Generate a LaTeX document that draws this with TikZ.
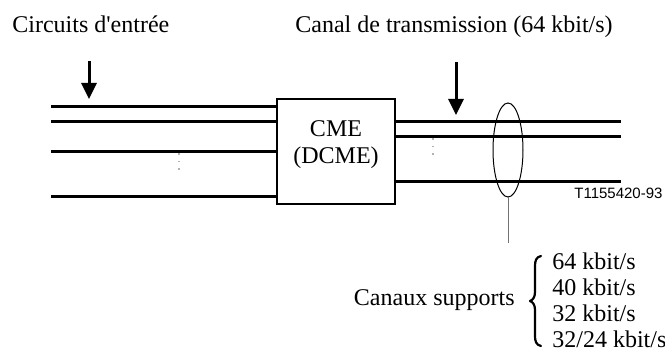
\documentclass[tikz,border=0pt]{standalone}
\usepackage{fontspec}
\setmainfont{Liberation Serif}
\newfontfamily\serifplain{Liberation Serif}
\newfontfamily\sansf{Liberation Sans}
\usetikzlibrary{arrows.meta,shapes.geometric}
\tikzset{
  thickline/.style={line width=1.5pt},
  downarrow/.style={line width=1.5pt,-{Triangle[width=7.5pt,length=8pt]}},
  cmebox/.style={draw,line width=1pt,minimum width=59pt,minimum height=52.5pt,inner sep=0pt},
  lbl/.style={font=\fontsize{12}{13.5}\selectfont,inner sep=0pt},
  tag/.style={font=\sansf\fontsize{7.5}{9}\selectfont,inner sep=0pt},
  ring/.style={draw,ellipse,line width=0.5pt,minimum width=15pt,minimum height=47pt,inner sep=0pt},
  leader/.style={draw=black!55,line width=0.5pt},
  dotmark/.style={fill=black!30,draw=none},
  bracepath/.style={line width=1.1pt,line cap=round,line join=round},
}
\begin{document}
\begin{tikzpicture}[x=0.5pt,y=-0.5pt]
\useasboundingbox (0,0) rectangle (665,352);
% texts at top
\node[lbl,anchor=base west] (tin) at (12,33) {\serifplain Circuits d'entrée};
\node[lbl,anchor=base west] (tch) at (295,33) {Canal de transmission (64 kbit/s)};
% box
\node[cmebox] (cme) at (336,152) {};
\node[lbl,align=center] (cmetext) at (336,144.5) {CME\\(DCME)};
% left lines
\coordinate (l1) at (51,107);
\coordinate (l2) at (51,122);
\coordinate (l3) at (51,152);
\coordinate (l4) at (51,197);
\foreach \c in {l1,l2,l3,l4} \draw[thickline] (\c) -- (\c -| cme.west);
% right lines
\coordinate (r1) at (621,122);
\coordinate (r2) at (621,137);
\coordinate (r3) at (621,182);
\foreach \c in {r1,r2,r3} \draw[thickline] (\c -| cme.east) -- (\c);
% arrows
\coordinate (a1s) at (89,61);
\coordinate (a1e) at (89,99);
\draw[downarrow] (a1s) -- (a1e);
\coordinate (a2s) at (456,62);
\coordinate (a2e) at (456,115);
\draw[downarrow] (a2s) -- (a2e);
% dots
\foreach \y in {154,161.5,169} \fill[dotmark] (178.2,\y-0.8) rectangle (179.8,\y+0.8);
\foreach \y in {139,146.5,154} \fill[dotmark] (432.2,\y-0.8) rectangle (433.8,\y+0.8);
% ellipse and leader
\node[ring] (ring) at (508,150) {};
\coordinate (lead) at (508,243);
\draw[leader] (ring.south) -- (lead);
% tag
\node[tag,anchor=base west] (tag) at (574,199) {T1155420-93};
% supports
\node[lbl,anchor=base east] (sup) at (515,306) {Canaux supports};
\draw[bracepath] (541,256) .. controls (536,257) and (535,261) .. (535,266) -- (535,292)
  .. controls (535,297) and (533,300) .. (530,301)
  .. controls (533,302) and (535,305) .. (535,310) -- (535,336)
  .. controls (535,341) and (536,345) .. (541,346);
\node[inner sep=0pt,anchor=base west] (rates) at (552,270) {\fontsize{12}{12.85}\selectfont\begin{tabular}[t]{@{}l@{}}64 kbit/s\\40 kbit/s\\32 kbit/s\\32/24 kbit/s\end{tabular}};
\end{tikzpicture}
\end{document}
